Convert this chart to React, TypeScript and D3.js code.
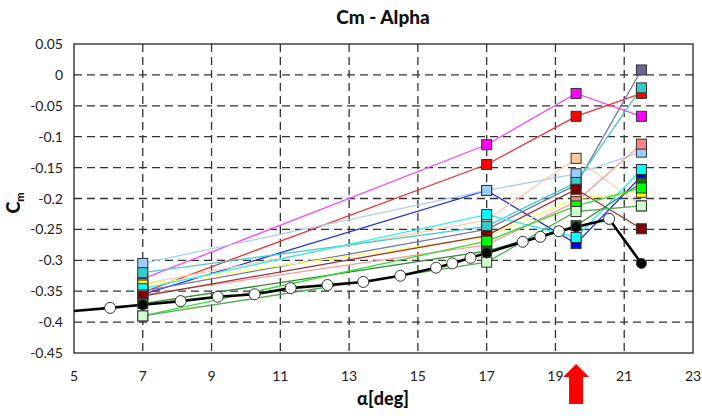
import React from 'react'
import * as d3 from 'd3'

// main curve (black line, white circles, black dots at the test points)
const mainAlpha = [5, 6.05, 7, 8.1, 9.18, 10.25, 11.3, 12.37, 13.41, 14.49, 15.53, 16.0, 16.53, 17, 18.05, 18.56, 19.1, 19.6, 20.56, 21.5]
const mainCm = [-0.382, -0.377, -0.372, -0.366, -0.359, -0.355, -0.345, -0.34, -0.335, -0.325, -0.312, -0.305, -0.296, -0.288, -0.27, -0.262, -0.253, -0.246, -0.233, -0.305]
const mainMarker = ['', 'o', '*', 'o', 'o', 'o', 'o', 'o', 'o', 'o', 'o', 'o', 'o', '*', 'o', 'o', 'o', '*', 'o', '*']

// colored runs, all sampled at the same angles
const runAlpha = [7, 17, 19.6, 21.5]
const runNames = ['blue', 'magenta', 'red', 'slate', 'lightblue', 'peach', 'yellow', 'teal', 'cyan', 'salmon', 'darkred', 'darkgreen', 'green', 'lightgreen']
const runLine = ['#2233dd', '#ff44ff', '#ee3333', '#7777aa', '#aaccee', '#ffccaa', '#ffff66', '#44cccc', '#33eeee', '#ff9999', '#993333', '#338833', '#33dd33', '#55aa55']
const runFill = ['#0000ff', '#ff00ff', '#ff0000', '#666699', '#99ccff', '#ffcc99', '#ffff00', '#33cccc', '#00ffff', '#ff8080', '#800000', '#008000', '#00ff00', '#ccffcc']
const runCm = [
  [-0.355, -0.187, -0.273, -0.164],
  [-0.33, -0.113, -0.03, -0.067],
  [-0.352, -0.145, -0.067, -0.03],
  [-0.35, -0.25, -0.178, 0.008],
  [-0.305, -0.187, -0.16, -0.125],
  [-0.338, -0.235, -0.135, -0.212],
  [-0.34, -0.262, -0.2, -0.19],
  [-0.32, -0.245, -0.174, -0.021],
  [-0.346, -0.226, -0.263, -0.153],
  [-0.356, -0.275, -0.205, -0.112],
  [-0.358, -0.26, -0.185, -0.249],
  [-0.37, -0.285, -0.244, -0.175],
  [-0.39, -0.269, -0.212, -0.183],
  [-0.39, -0.303, -0.221, -0.212],
]

const xTicks = [5, 7, 9, 11, 13, 15, 17, 19, 21, 23]
const yTicks = [0.05, 0, -0.05, -0.1, -0.15, -0.2, -0.25, -0.3, -0.35, -0.4, -0.45]
const arrowAlpha = 19.6

export default function App() {
  const W = 702, H = 416
  const x = d3.scaleLinear().domain([5, 23]).range([74, 693])
  const y = d3.scaleLinear().domain([-0.45, 0.05]).range([353, 44])
  const font = 'Lato, "Liberation Sans", sans-serif'

  const runPath = d3.line<number>().x((d, i) => x(runAlpha[i])).y(d => y(d))
  const mainPath = d3.line<number>().x((d, i) => x(mainAlpha[i])).y(d => y(d))
  const sq = 10

  const ax = x(arrowAlpha)

  return (
    <svg width={W} height={H} style={{ position: 'absolute', left: 0, top: 0, background: '#fff' }}>
      <rect width={W} height={H} fill="#fff" />
      <text x={383} y={24} textAnchor="middle" fontFamily={font} fontWeight="900" fontSize={19} fill="#111">Cm - Alpha</text>

      {/* grid */}
      {xTicks.slice(1, -1).map(t => (
        <line key={'gx' + t} x1={x(t)} x2={x(t)} y1={y(0.05)} y2={y(-0.45)} stroke="#333" strokeWidth={1.3} strokeDasharray="8,5" />
      ))}
      {yTicks.slice(1, -1).map(t => (
        <line key={'gy' + t} x1={x(5)} x2={x(23)} y1={y(t)} y2={y(t)} stroke="#333" strokeWidth={1.3} strokeDasharray="8,5" />
      ))}
      <rect x={x(5)} y={y(0.05)} width={x(23) - x(5)} height={y(-0.45) - y(0.05)} fill="none" stroke="#222" strokeWidth={1.3} />

      {/* tick labels */}
      {yTicks.map(t => (
        <text key={'ly' + t} x={63} y={y(t) + 5} textAnchor="end" fontFamily={font} fontSize={14} fill="#222">{String(+t.toFixed(2))}</text>
      ))}
      {xTicks.map(t => (
        <text key={'lx' + t} x={x(t)} y={381} textAnchor="middle" fontFamily={font} fontSize={14} fill="#222">{t}</text>
      ))}
      <text x={383} y={405} textAnchor="middle" fontFamily={font} fontWeight="900" fontSize={18} fill="#111">α[deg]</text>
      <text transform="translate(20,203) rotate(-90)" textAnchor="middle" fontFamily={font} fontWeight="900" fontSize={18} fill="#111">
        C<tspan fontSize={11} dy={4}>m</tspan>
      </text>

      {/* colored runs: lines */}
      {runCm.map((vals, k) => (
        <path key={'rl' + k} d={runPath(vals) || ''} fill="none" stroke={runLine[k]} strokeWidth={1.3} />
      ))}

      {/* main curve */}
      <path d={mainPath(mainCm) || ''} fill="none" stroke="#000" strokeWidth={2.6} />

      {/* colored runs: markers */}
      {runCm.map((vals, k) => (
        <g key={'rm' + runNames[k]}>
          {vals.map((v, i) => (
            <rect key={i} x={x(runAlpha[i]) - sq / 2} y={y(v) - sq / 2} width={sq} height={sq} fill={runFill[k]} stroke="#333" strokeWidth={1} />
          ))}
        </g>
      ))}

      {/* main markers */}
      {mainCm.map((v, i) => mainMarker[i] === '' ? null : (
        <circle key={'mm' + i} cx={x(mainAlpha[i])} cy={y(v)} r={mainMarker[i] === '*' ? 5 : 5.5}
          fill={mainMarker[i] === '*' ? '#000' : '#fff'} stroke="#333" strokeWidth={1} />
      ))}

      {/* red arrow marking the stall angle */}
      <path d={`M${ax},364 L${ax + 13},377 L${ax + 7},377 L${ax + 7},404 L${ax - 7},404 L${ax - 7},377 L${ax - 13},377 Z`} fill="#ff0000" />
    </svg>
  )
}
